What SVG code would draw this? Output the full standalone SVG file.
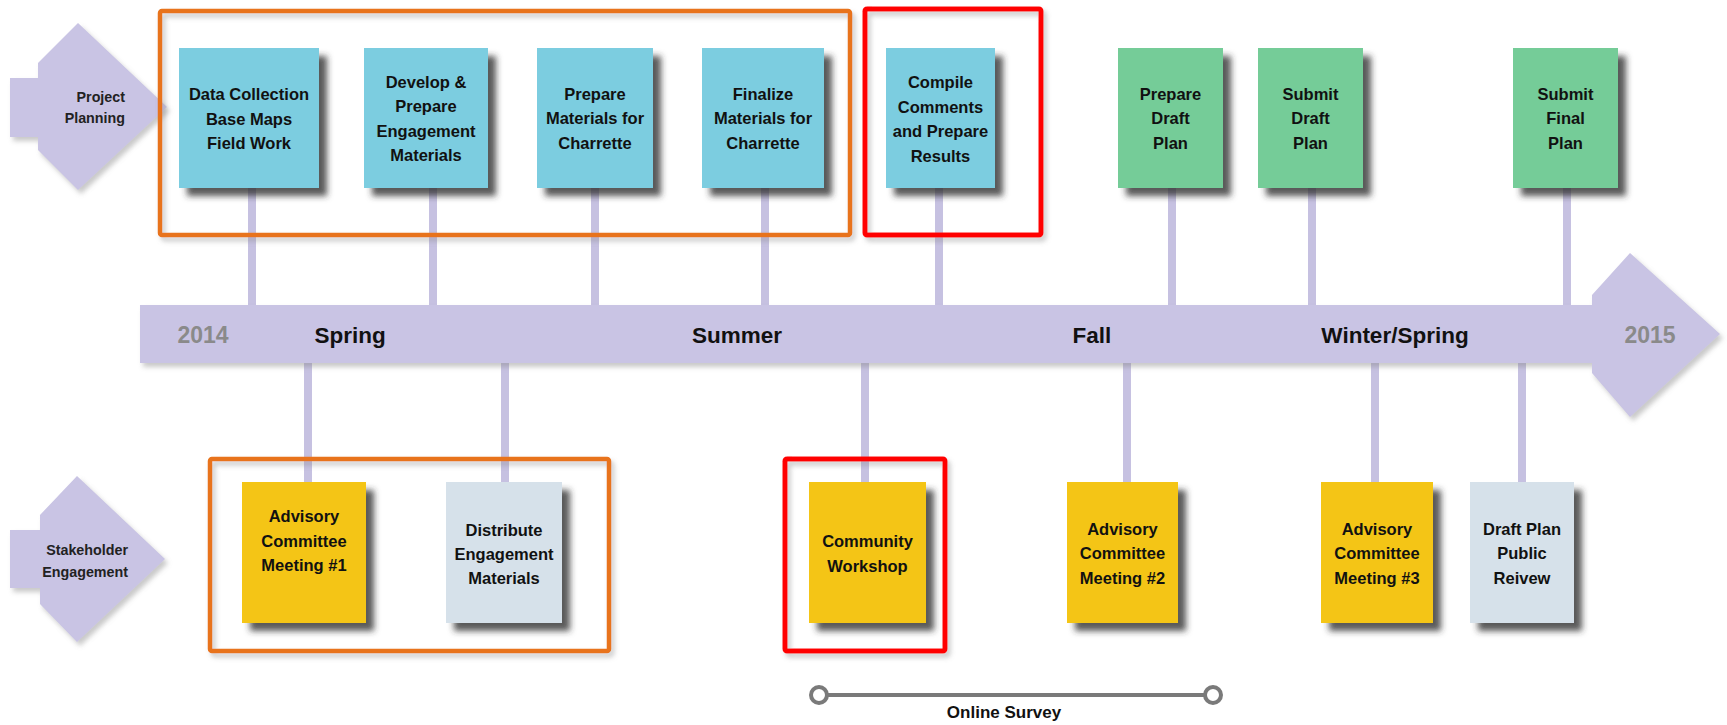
<svg xmlns="http://www.w3.org/2000/svg" width="1727" height="725" viewBox="0 0 1727 725">
<defs>
<filter id="sh" x="-20%" y="-20%" width="150%" height="150%">
<feDropShadow dx="8" dy="8" stdDeviation="3" flood-color="#333" flood-opacity="0.8"/>
</filter>
<filter id="lsh" x="-10%" y="-10%" width="130%" height="130%">
<feDropShadow dx="3" dy="4" stdDeviation="2.5" flood-color="#888" flood-opacity="0.45"/>
</filter>
<style>
.t{font-family:"Liberation Sans",Arial,sans-serif;font-weight:bold;font-size:16.5px;fill:#111;text-anchor:middle}
.lab{font-family:"Liberation Sans",Arial,sans-serif;font-weight:bold;font-size:14.3px;fill:#222;text-anchor:end}
.season{font-family:"Liberation Sans",Arial,sans-serif;font-weight:bold;font-size:22.5px;fill:#111;text-anchor:middle}
.year{font-family:"Liberation Sans",Arial,sans-serif;font-weight:bold;font-size:23px;fill:#8a8a8a;text-anchor:middle}
.cy{fill:#7bcde0}
.gr{fill:#74cc98}
.ye{fill:#f4c517}
.lg{fill:#d6e1ea}
.box{filter:url(#sh)}
.stem{stroke:#c6c1e1;stroke-width:8}
.lav{fill:#c9c4e4}
.fo{fill:none;stroke:#e8731a;stroke-width:4.5;filter:url(#lsh)}
.fr{fill:none;stroke:#ff0000;stroke-width:5;filter:url(#lsh)}
</style>
</defs>
<rect width="1727" height="725" fill="#ffffff"/>

<g id="connectors">
<line class="stem" x1="252" y1="180" x2="252" y2="306"/>
<line class="stem" x1="433" y1="180" x2="433" y2="306"/>
<line class="stem" x1="595" y1="180" x2="595" y2="306"/>
<line class="stem" x1="765" y1="180" x2="765" y2="306"/>
<line class="stem" x1="939" y1="180" x2="939" y2="306"/>
<line class="stem" x1="1172" y1="180" x2="1172" y2="306"/>
<line class="stem" x1="1312" y1="180" x2="1312" y2="306"/>
<line class="stem" x1="1567" y1="180" x2="1567" y2="306"/>
<line class="stem" x1="308" y1="362" x2="308" y2="490"/>
<line class="stem" x1="505" y1="362" x2="505" y2="490"/>
<line class="stem" x1="865" y1="362" x2="865" y2="490"/>
<line class="stem" x1="1127" y1="362" x2="1127" y2="490"/>
<line class="stem" x1="1375" y1="362" x2="1375" y2="490"/>
<line class="stem" x1="1522" y1="362" x2="1522" y2="490"/>
</g>

<g id="timeline">
<polygon class="lav" filter="url(#lsh)" points="140,305 1592,305 1592,295 1630,253 1720,334 1630,417 1592,373 1592,363 140,363"/>
<text class="year" x="203" y="343">2014</text>
<text class="season" x="350" y="343">Spring</text>
<text class="season" x="737" y="343">Summer</text>
<text class="season" x="1092" y="343">Fall</text>
<text class="season" x="1395" y="343">Winter/Spring</text>
<text class="year" x="1650" y="343">2015</text>
</g>

<g id="lane-project-planning">
<polygon class="lav" filter="url(#lsh)" points="10,78 38,78 38,63 78,23 167,107 78,190 38,150 38,137 10,137"/>
<text class="lab" x="125" y="102">Project</text>
<text class="lab" x="125" y="123">Planning</text>
</g>

<g id="lane-stakeholder">
<polygon class="lav" filter="url(#lsh)" points="10,530 40,530 40,515 77,476 165,559 77,642 40,604 40,588 10,588"/>
<text class="lab" x="128" y="555">Stakeholder</text>
<text class="lab" x="128" y="577">Engagement</text>
</g>

<g id="frames">
<rect class="fo" x="160" y="11" width="690" height="224" rx="2"/>
<rect class="fr" x="865" y="9" width="176" height="226" rx="2"/>
<rect class="fo" x="210" y="459" width="399" height="192" rx="2"/>
<rect class="fr" x="785" y="459" width="160" height="192" rx="2"/>
</g>

<g id="n-data-collection">
<rect class="box cy" x="179" y="48" width="140" height="140"/>
<text class="t" x="249" y="100">Data Collection</text>
<text class="t" x="249" y="125">Base Maps</text>
<text class="t" x="249" y="149">Field Work</text>
</g>
<g id="n-develop">
<rect class="box cy" x="364" y="48" width="124" height="140"/>
<text class="t" x="426" y="88">Develop &amp;</text>
<text class="t" x="426" y="112">Prepare</text>
<text class="t" x="426" y="137">Engagement</text>
<text class="t" x="426" y="161">Materials</text>
</g>
<g id="n-prepare-materials">
<rect class="box cy" x="537" y="48" width="116" height="140"/>
<text class="t" x="595" y="100">Prepare</text>
<text class="t" x="595" y="124">Materials for</text>
<text class="t" x="595" y="149">Charrette</text>
</g>
<g id="n-finalize">
<rect class="box cy" x="702" y="48" width="122" height="140"/>
<text class="t" x="763" y="100">Finalize</text>
<text class="t" x="763" y="124">Materials for</text>
<text class="t" x="763" y="149">Charrette</text>
</g>
<g id="n-compile">
<rect class="box cy" x="886" y="48" width="109" height="140"/>
<text class="t" x="940.5" y="88">Compile</text>
<text class="t" x="940.5" y="113">Comments</text>
<text class="t" x="940.5" y="137">and Prepare</text>
<text class="t" x="940.5" y="162">Results</text>
</g>
<g id="n-prepare-draft">
<rect class="box gr" x="1118" y="48" width="105" height="140"/>
<text class="t" x="1170.5" y="100">Prepare</text>
<text class="t" x="1170.5" y="124">Draft</text>
<text class="t" x="1170.5" y="149">Plan</text>
</g>
<g id="n-submit-draft">
<rect class="box gr" x="1258" y="48" width="105" height="140"/>
<text class="t" x="1310.5" y="100">Submit</text>
<text class="t" x="1310.5" y="124">Draft</text>
<text class="t" x="1310.5" y="149">Plan</text>
</g>
<g id="n-submit-final">
<rect class="box gr" x="1513" y="48" width="105" height="140"/>
<text class="t" x="1565.5" y="100">Submit</text>
<text class="t" x="1565.5" y="124">Final</text>
<text class="t" x="1565.5" y="149">Plan</text>
</g>

<g id="n-advisory-1">
<rect class="box ye" x="242" y="482" width="124" height="141"/>
<text class="t" x="304" y="522">Advisory</text>
<text class="t" x="304" y="547">Committee</text>
<text class="t" x="304" y="571">Meeting #1</text>
</g>
<g id="n-distribute">
<rect class="box lg" x="446" y="482" width="116" height="141"/>
<text class="t" x="504" y="536">Distribute</text>
<text class="t" x="504" y="560">Engagement</text>
<text class="t" x="504" y="584">Materials</text>
</g>
<g id="n-community">
<rect class="box ye" x="809" y="482" width="117" height="141"/>
<text class="t" x="867.5" y="547">Community</text>
<text class="t" x="867.5" y="572">Workshop</text>
</g>
<g id="n-advisory-2">
<rect class="box ye" x="1067" y="482" width="111" height="141"/>
<text class="t" x="1122.5" y="535">Advisory</text>
<text class="t" x="1122.5" y="559">Committee</text>
<text class="t" x="1122.5" y="584">Meeting #2</text>
</g>
<g id="n-advisory-3">
<rect class="box ye" x="1321" y="482" width="112" height="141"/>
<text class="t" x="1377" y="535">Advisory</text>
<text class="t" x="1377" y="559">Committee</text>
<text class="t" x="1377" y="584">Meeting #3</text>
</g>
<g id="n-draft-public">
<rect class="box lg" x="1470" y="482" width="104" height="141"/>
<text class="t" x="1522" y="535">Draft Plan</text>
<text class="t" x="1522" y="559">Public</text>
<text class="t" x="1522" y="584">Reivew</text>
</g>

<g id="online-survey">
<line x1="819" y1="695" x2="1213" y2="695" stroke="#7a7a7a" stroke-width="4"/>
<circle cx="819" cy="695" r="8" fill="#fff" stroke="#7a7a7a" stroke-width="4"/>
<circle cx="1213" cy="695" r="8" fill="#fff" stroke="#7a7a7a" stroke-width="4"/>
<text class="t" x="1004" y="718" style="font-size:17px">Online Survey</text>
</g>
</svg>
